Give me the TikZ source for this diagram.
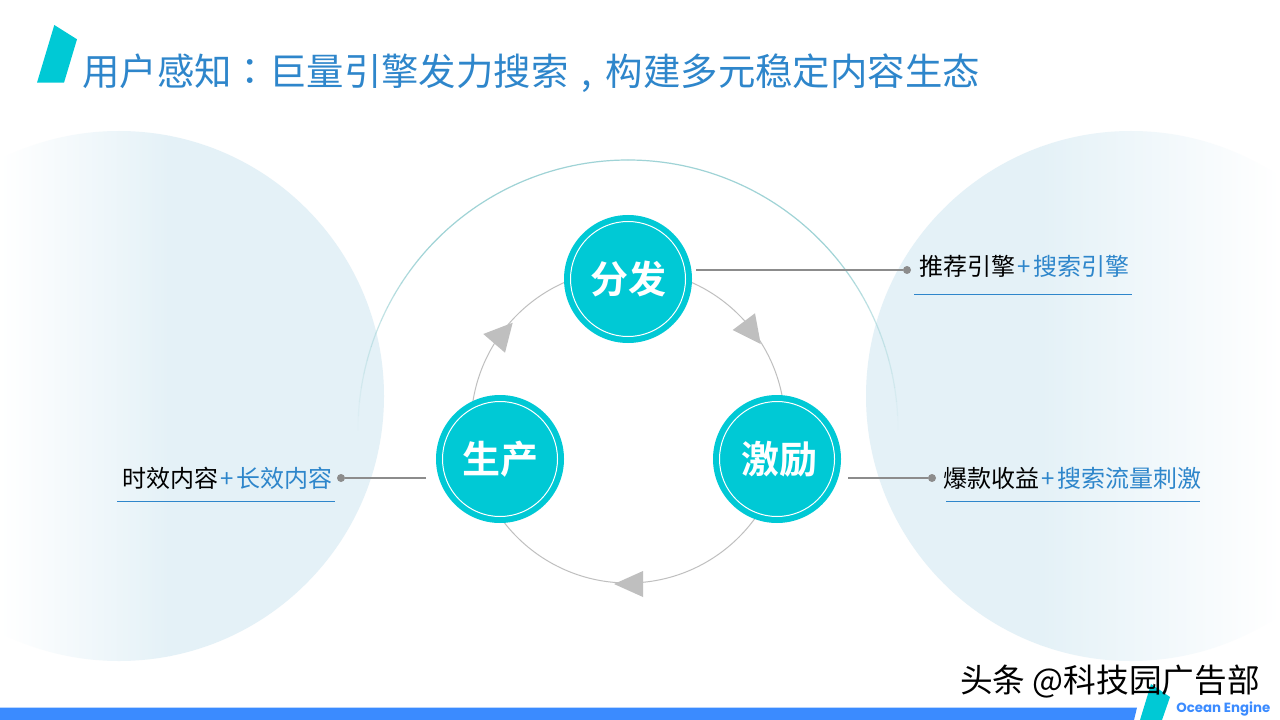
\documentclass[tikz,border=0pt]{standalone}
\usepackage{fontspec}
\setmainfont{Noto Sans CJK SC}
\newfontfamily\cjkb{Noto Sans CJK SC Bold}
\newfontfamily\cjkt{Noto Sans CJK TC}
\newfontfamily\pop{Poppins}
\definecolor{teal1}{HTML}{00C9D5}
\definecolor{title1}{HTML}{2E86CB}
\definecolor{pale}{HTML}{E4F1F7}
\definecolor{cyc}{HTML}{BFBFBF}
\definecolor{lead}{HTML}{8C8C8C}
\definecolor{rulec}{HTML}{2E86CB}
\definecolor{barc}{HTML}{3B8BFF}
\definecolor{arcc}{HTML}{9FD3D6}
\tikzset{
  x=0.75pt,y=-0.75pt,
  hub/.style={circle,fill=teal1,minimum size=96pt,inner sep=0pt,text=white,font=\cjkb\fontsize{28.5}{28.5}\selectfont},
  leadline/.style={draw=lead,line width=0.9pt},
  dotmark/.style={circle,fill=lead,minimum size=6pt,inner sep=0pt},
  lab/.style={font=\fontsize{18}{18}\selectfont,inner sep=0pt,text=black},
  cycline/.style={draw=cyc,line width=0.75pt},
  tip/.style={fill=cyc,draw=none},
  rul/.style={draw=rulec,line width=0.6pt}
}
\newcommand{\blu}[1]{\textcolor{title1}{\hspace{2pt}+\hspace{2pt}#1}}
\begin{document}
\begin{tikzpicture}
\useasboundingbox (0,0) rectangle (1280,720);
\fill[white] (0,0) rectangle (1280,720);
% big pale discs
\begin{scope}
\clip (119,396) circle [radius=265];
\fill[pale] (169,100) rectangle (400,700);
\shade[left color=white,right color=pale] (0,100) rectangle (170,700);
\end{scope}
\begin{scope}
\clip (1131,396) circle [radius=265];
\fill[pale] (850,100) rectangle (1041,700);
\shade[left color=pale,right color=white] (1040,100) rectangle (1280,700);
\end{scope}
% large arc, fading to its ends
\foreach \a in {0,3,...,177}{
  \pgfmathsetmacro{\op}{min(1,sin(\a+1.5)*1.5)}
  \draw[color=arcc,opacity=\op,line width=0.9pt]
    ({628+270*cos(\a)},{430-270*sin(\a)}) arc [start angle=-\a,end angle=-\a-3.05,radius=270];
}
% cycle
\draw[cycline] (628,426) circle [radius=157];
\fill[tip] (732.7,330)--(755,313.3)--(760.7,344)--cycle;
\fill[tip] (483.3,334)--(512.7,322.7)--(505,352.7)--cycle;
\fill[tip] (614,584)--(643,571)--(643,597)--cycle;
% hubs
\node[hub] (fen) at (628,279) {分发};
\node[hub] (sheng) at (500,459) {生产};
\node[hub] (ji) at (777,459) {\hspace{3pt}激励};
\foreach \n in {fen,sheng,ji} \draw[white,line width=0.75pt] (\n) circle [radius=57.5];
% labels
\node[lab,anchor=west] (r1) at (919,266) {推荐引擎\blu{搜索引擎}};
\node[lab,anchor=west] (r2) at (943,478) {爆款收益\blu{搜索流量刺激}};
\node[lab,anchor=west] (l1) at (122,478) {时效内容\blu{长效内容}};
\node[dotmark] (d1) at (907,270) {};
\node[dotmark] (d2) at (932,478) {};
\node[dotmark] (d3) at (341,478) {};
\coordinate (s1) at (696,270);
\coordinate (s2) at (848,478);
\coordinate (s3) at (426,478);
\draw[leadline] (s1) -- (d1);
\draw[leadline] (s2) -- (d2);
\draw[leadline] (s3) -- (d3);
\coordinate (u1a) at (914,294.5); \coordinate (u1b) at (1132,294.5);
\coordinate (u2a) at (946,501); \coordinate (u2b) at (1200,501);
\coordinate (u3a) at (117,501); \coordinate (u3b) at (335,501);
\draw[rul] (u1a) -- (u1b);
\draw[rul] (u2a) -- (u2b);
\draw[rul] (u3a) -- (u3b);
% title
\fill[teal1] (54.3,25)--(77,39.3)--(64,82.7)--(37,82.7)--cycle;
\node[anchor=west,inner sep=0pt,text=title1,font=\fontsize{28.05}{28}\selectfont] (title) at (82,73) {用户感知{\cjkt ：}巨量引擎发力搜索\makebox[1em][c]{,}构建多元稳定内容生态};
% footer
\fill[barc] (0,707.5)--(1137,707.5)--(1134,720)--(0,720)--cycle;
\fill[teal1] (1140,720)--(1151,684)--(1170,697)--(1162,720)--cycle;
\node[anchor=west,inner sep=0pt,text=barc,font=\pop\bfseries\fontsize{10}{10}\selectfont] (oe) at (1176,709) {Ocean Engine};
\node[anchor=west,inner sep=0pt,text=black,font=\fontsize{24.5}{25}\selectfont] (wm) at (960,682) {头条 @科技园广告部};
\end{tikzpicture}
\end{document}
